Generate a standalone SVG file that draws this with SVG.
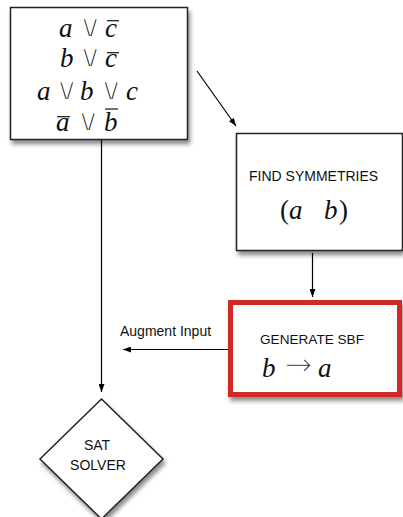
<svg xmlns="http://www.w3.org/2000/svg" width="403" height="517" viewBox="0 0 403 517">
<defs>
<filter id="sh" x="-10%" y="-10%" width="130%" height="130%">
<feDropShadow dx="2" dy="4" stdDeviation="2.2" flood-color="#000" flood-opacity="0.45"/>
</filter>
<marker id="ah" markerWidth="8" markerHeight="6" refX="8" refY="3" orient="auto" markerUnits="userSpaceOnUse">
<path d="M0,0 L8,3 L0,6 z" fill="#000"/>
</marker>
<style>
.box{fill:#fff;stroke:#222;stroke-width:1.5}
.red{fill:#fff;stroke:#cf2a27;stroke-width:5}
.lbl{font-family:"Liberation Sans",Arial,sans-serif;font-size:14px;fill:#111}
.m{font-family:"Liberation Serif","Times New Roman",serif;font-style:italic;font-size:27px;fill:#111}
.op{font-family:"DejaVu Sans",sans-serif;font-style:normal;font-size:32px;fill:#111;stroke:#fff;stroke-width:1.8}
.par{font-family:"Liberation Serif","Times New Roman",serif;font-style:normal;font-size:27px;fill:#111}
.bar{stroke:#111;stroke-width:1.2}
.edge{stroke:#000;stroke-width:1.2;fill:none;marker-end:url(#ah)}
</style>
</defs>

<g id="connectors">
<line class="edge" x1="101.5" y1="140" x2="101.5" y2="392"/>
<line class="edge" x1="197" y1="71" x2="236" y2="126"/>
<line class="edge" x1="312.5" y1="253" x2="312.5" y2="297"/>
<line class="edge" x1="228" y1="349.5" x2="123" y2="349.5"/>
<text class="lbl" x="120" y="336">Augment Input</text>
</g>

<g id="clauses">
<rect class="box" x="10.5" y="7.5" width="177" height="132" filter="url(#sh)"/>
<text class="m" y="36.5"><tspan x="59">a</tspan><tspan class="op" x="78.5">∨</tspan><tspan x="105">c</tspan></text>
<line class="bar" x1="107" y1="20.7" x2="119" y2="20.7"/>

<text class="m" y="67"><tspan x="60">b</tspan><tspan class="op" x="78.5">∨</tspan><tspan x="105">c</tspan></text>
<line class="bar" x1="107" y1="52.7" x2="119" y2="52.7"/>

<text class="m" y="100"><tspan x="37">a</tspan><tspan class="op" x="55">∨</tspan><tspan x="80">b</tspan><tspan class="op" x="99.5">∨</tspan><tspan x="126">c</tspan></text>

<text class="m" y="131"><tspan x="56">a</tspan><tspan class="op" x="76.5">∨</tspan><tspan x="104">b</tspan></text>
<line class="bar" x1="57" y1="116.7" x2="70" y2="116.7"/>
<line class="bar" x1="105" y1="109" x2="118" y2="109"/>
</g>

<g id="find-symmetries">
<rect class="box" x="236.5" y="133.5" width="166" height="117" filter="url(#sh)"/>
<text class="lbl" x="249" y="180.5">FIND SYMMETRIES</text>
<text class="par" y="219"><tspan x="280">(</tspan><tspan class="m" x="289">a</tspan><tspan class="m" x="324">b</tspan><tspan x="339">)</tspan></text>
</g>

<g id="generate-sbf">
<rect class="red" x="230.5" y="302.5" width="169" height="92" filter="url(#sh)"/>
<text class="lbl" x="260" y="344" style="font-size:13.6px">GENERATE SBF</text>
<text class="m" y="377"><tspan x="262">b</tspan><tspan class="op" x="284" dy="-1" style="font-size:34px">→</tspan><tspan x="318" dy="1">a</tspan></text>
</g>

<g id="sat-solver">
<polygon class="box" points="101.5,399 163,459 101.5,519 40,459" filter="url(#sh)"/>
<text class="lbl" x="97" y="450" text-anchor="middle">SAT</text>
<text class="lbl" x="98" y="469.5" text-anchor="middle">SOLVER</text>
</g>
</svg>
